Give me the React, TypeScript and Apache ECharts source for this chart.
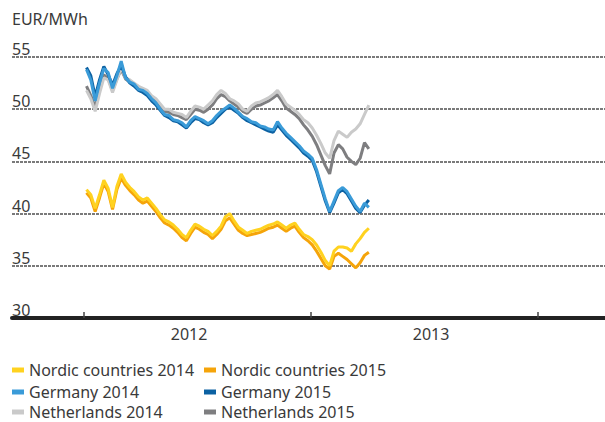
import React, { useEffect, useRef } from "react";
import * as echarts from "echarts";

const startDate = "2012-01-05";
const weekCount = 66;

const nordic2014 = [42.3, 41.8, 40.5, 41.8, 43.2, 42.4, 40.6, 42.6, 43.8, 43.0, 42.5, 42.1, 41.6, 41.3, 41.5, 41.0, 40.5, 39.9, 39.4, 39.2, 38.9, 38.5, 38.0, 37.7, 38.4, 39.0, 38.8, 38.5, 38.3, 37.9, 38.3, 38.8, 39.7, 40.0, 39.3, 38.7, 38.4, 38.1, 38.3, 38.4, 38.5, 38.7, 38.9, 39.0, 39.2, 38.9, 38.6, 38.9, 39.1, 38.5, 38.0, 37.8, 37.5, 37.0, 36.3, 35.5, 35.0, 36.4, 36.8, 36.8, 36.7, 36.4, 37.1, 37.6, 38.2, 38.6];
const nordic2015 = [42.0, 41.5, 40.2, 41.5, 42.9, 42.1, 40.4, 42.3, 43.4, 42.7, 42.2, 41.8, 41.3, 41.0, 41.2, 40.7, 40.2, 39.6, 39.1, 38.9, 38.6, 38.2, 37.7, 37.4, 38.1, 38.7, 38.5, 38.2, 38.0, 37.6, 38.0, 38.5, 39.3, 39.6, 39.0, 38.4, 38.1, 37.9, 38.0, 38.1, 38.2, 38.4, 38.6, 38.7, 38.9, 38.6, 38.3, 38.6, 38.8, 38.2, 37.7, 37.4, 37.0, 36.4, 35.7, 35.0, 34.7, 35.9, 36.2, 35.9, 35.6, 35.2, 34.8, 35.3, 36.0, 36.3];
const germany2014 = [53.8, 52.8, 50.8, 52.5, 53.9, 53.5, 52.0, 53.2, 54.6, 53.0, 52.6, 52.4, 51.9, 51.8, 51.5, 51.0, 50.6, 50.0, 49.5, 49.4, 49.0, 48.9, 48.7, 48.3, 48.9, 49.3, 49.1, 48.9, 48.6, 48.9, 49.4, 49.8, 50.1, 50.4, 50.1, 49.7, 49.3, 49.1, 48.8, 48.7, 48.4, 48.3, 48.1, 48.0, 48.8, 48.2, 47.7, 47.3, 46.9, 46.5, 46.0, 45.7, 45.3, 44.2, 42.8, 41.4, 40.2, 41.2, 42.2, 42.5, 42.1, 41.4, 40.7, 40.2, 41.0, 40.6];
const germany2015 = [54.0, 53.2, 51.2, 52.8, 54.1, 53.3, 52.3, 53.4, 54.2, 53.1, 52.5, 52.2, 51.8, 51.6, 51.3, 50.8, 50.4, 49.9, 49.4, 49.2, 48.9, 48.8, 48.5, 48.2, 48.7, 49.1, 49.0, 48.7, 48.5, 48.7, 49.2, 49.6, 50.0, 50.2, 49.9, 49.6, 49.2, 48.9, 48.7, 48.5, 48.3, 48.1, 47.9, 47.8, 48.5, 48.0, 47.5, 47.1, 46.7, 46.3, 45.8, 45.5, 45.1, 44.0, 42.6, 41.2, 40.1, 41.0, 42.0, 42.3, 41.9, 41.2, 40.5, 40.1, 40.8, 41.3];
const netherlands2014 = [51.8, 51.0, 49.8, 51.5, 53.0, 52.8, 51.6, 52.8, 54.0, 53.0, 52.8, 52.5, 52.2, 52.0, 51.8, 51.3, 51.0, 50.5, 50.0, 50.0, 49.7, 49.6, 49.5, 49.2, 49.8, 50.3, 50.2, 50.0, 50.4, 50.8, 51.4, 51.8, 51.5, 51.0, 50.8, 50.5, 50.0, 49.8, 50.3, 50.6, 50.7, 50.9, 51.1, 51.4, 51.8, 51.2, 50.5, 50.2, 49.9, 49.5, 49.0, 48.7, 48.2, 47.5, 46.7, 45.8, 45.3, 47.0, 47.9, 47.6, 47.3, 47.8, 48.1, 48.6, 49.5, 50.4];
const netherlands2015 = [52.2, 51.3, 50.2, 51.8, 53.3, 52.9, 51.8, 52.9, 53.8, 52.9, 52.6, 52.3, 52.0, 51.8, 51.5, 51.1, 50.8, 50.3, 49.8, 49.7, 49.5, 49.4, 49.2, 49.0, 49.5, 50.0, 49.9, 49.7, 50.0, 50.4, 51.0, 51.4, 51.2, 50.8, 50.5, 50.2, 49.8, 49.6, 50.0, 50.3, 50.4, 50.6, 50.8, 51.1, 51.4, 50.8, 50.1, 49.8, 49.5, 49.1, 48.5, 48.0, 47.4, 46.6, 45.6, 44.6, 43.8, 45.8, 46.6, 46.2, 45.4, 45.0, 44.7, 45.3, 46.8, 46.2];

const yearTicks = [2012, 2013, 2014];
const yearLabelPositions = [2012.463, 2013.529];
const yTicks = [30, 35, 40, 45, 50, 55];

const seriesNames = [
  "Nordic countries 2014",
  "Nordic countries 2015",
  "Germany 2014",
  "Germany 2015",
  "Netherlands 2014",
  "Netherlands 2015",
];
const seriesColors = ["#FFD220", "#F5A40A", "#3A9BD8", "#0C61A2", "#CACACA", "#7E7E80"];

function decimalYear(d: Date): number {
  const y = d.getUTCFullYear();
  const s = Date.UTC(y, 0, 1);
  const e = Date.UTC(y + 1, 0, 1);
  return y + (d.getTime() - s) / (e - s);
}

const xYears: number[] = Array.from({ length: weekCount }, (_, i) => {
  const d = new Date(startDate + "T00:00:00Z");
  d.setUTCDate(d.getUTCDate() + i * 7);
  return decimalYear(d);
});

const FONT = "Noto Sans";

export default function App() {
  const ref = useRef<HTMLDivElement>(null);
  useEffect(() => {
    if (!ref.current) return;
    const chart = echarts.init(ref.current, null, { renderer: "svg" });
    const values = [nordic2014, nordic2015, germany2014, germany2015, netherlands2014, netherlands2015];
    const drawOrder = [5, 4, 3, 2, 1, 0];
    const series = drawOrder.map((k) => ({
      name: seriesNames[k],
      type: "line",
      data: values[k].map((v, i) => [xYears[i], v]),
      showSymbol: false,
      symbol: "none",
      lineStyle: { color: seriesColors[k], width: 3 },
      itemStyle: { color: seriesColors[k] },
      z: 2,
    }));
    const legendPos = [
      { left: 12, top: 362 },
      { left: 204, top: 362 },
      { left: 12, top: 384 },
      { left: 204, top: 384 },
      { left: 12, top: 404 },
      { left: 204, top: 404 },
    ];
    const legends = seriesNames.map((n, k) => ({
      data: [n],
      left: legendPos[k].left,
      top: legendPos[k].top,
      padding: 0,
      icon: "rect",
      itemWidth: 12,
      itemHeight: 5,
      selectedMode: false,
      textStyle: { fontSize: 16, color: "#3a3a3a", fontFamily: FONT, lineHeight: 16 },
    }));
    const xMin = 2012 - 72 / 227;
    const xMax = xMin + 593 / 227;
    chart.setOption({
      animation: false,
      backgroundColor: "#ffffff",
      textStyle: { fontFamily: FONT },
      grid: { left: 12, right: 0, top: 57, bottom: 104, containLabel: false },
      legend: legends,
      graphic: [
        {
          type: "text",
          left: 12,
          top: 11,
          style: { text: "EUR/MWh", fontSize: 16, fill: "#3a3a3a", fontFamily: FONT },
        },
      ],
      xAxis: {
        type: "value",
        min: xMin,
        max: xMax,
        splitLine: { show: false },
        axisLine: { show: true, onZero: false, lineStyle: { color: "#222222", width: 4 } },
        axisTick: {
          show: true,
          inside: true,
          length: 6,
          customValues: yearTicks,
          lineStyle: { color: "#444444", width: 1.5 },
        },
        axisLabel: {
          show: true,
          customValues: yearLabelPositions,
          formatter: (v: number) => String(Math.floor(v)),
          margin: 8,
          fontSize: 16,
          color: "#3a3a3a",
          fontFamily: FONT,
        },
      },
      yAxis: {
        type: "value",
        min: 30,
        max: 55,
        interval: 5,
        axisLine: { show: false },
        axisTick: { show: false },
        splitLine: { show: true, lineStyle: { color: "#7a7a7a", width: 2, type: [3, 1] } },
        axisLabel: {
          show: true,
          inside: true,
          margin: 0,
          align: "left",
          verticalAlign: "bottom",
          fontSize: 16,
          color: "#3a3a3a",
          fontFamily: FONT,
          formatter: (v: number) => (yTicks.includes(v) ? String(v) : ""),
        },
      },
      series,
    });
    return () => chart.dispose();
  }, []);
  return <div ref={ref} style={{ width: 605, height: 422, position: "absolute", left: 0, top: 0 }} />;
}
